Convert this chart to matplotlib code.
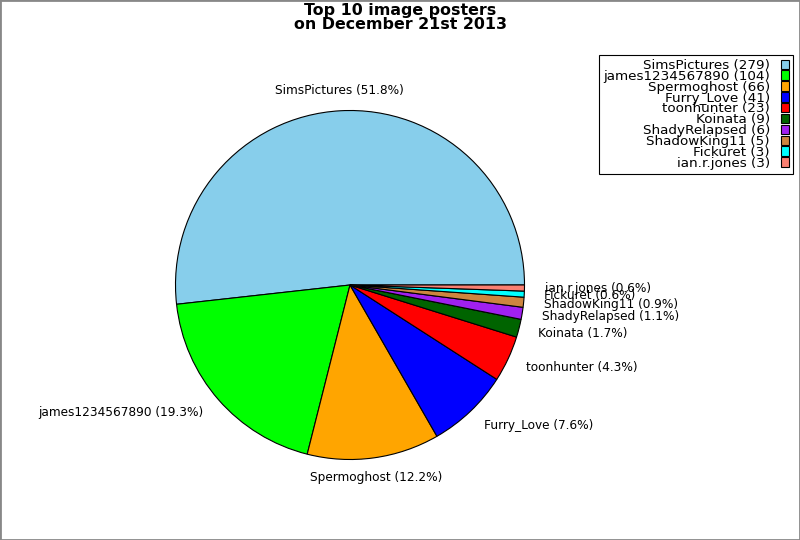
import numpy as np
import matplotlib
matplotlib.use("Agg")
import matplotlib.pyplot as plt

# data
names = ["SimsPictures", "james1234567890", "Spermoghost", "Furry_Love", "toonhunter",
         "Koinata", "ShadyRelapsed", "ShadowKing11", "Fickuret", "ian.r.jones"]
counts = [279, 104, 66, 41, 23, 9, 6, 5, 3, 3]
colors = ["#87ceeb", "#00ff00", "#ffa500", "#0000ff", "#ff0000",
          "#006400", "#a020f0", "#cd853f", "#00ffff", "#fa8072"]

total = sum(counts)
pie_labels = ["%s (%.1f%%)" % (n, 100.0 * c / total) for n, c in zip(names, counts)]
legend_labels = ["%s (%d)" % (n, c) for n, c in zip(names, counts)]

fig = plt.figure(figsize=(8, 5.4), dpi=100)
ax = fig.add_axes([0, 0, 700 / 800, 510 / 540])

wedges, texts = ax.pie(counts, labels=pie_labels, colors=colors, startangle=0,
                       labeldistance=1.115, radius=1.0,
                       wedgeprops=dict(edgecolor="black", linewidth=0.8),
                       textprops=dict(fontsize=8.7))

# centre the labels that sit near the top / bottom of the pie
for t in texts:
    x, y = t.get_position()
    c = x / np.hypot(x, y)
    if c > 0.3:
        t.set_ha("left")
    elif c < -0.3:
        t.set_ha("right")
    else:
        t.set_ha("center")

ax.set_aspect("auto")
ax.set_xlim(-350 / 174.5, 350 / 174.5)
ax.set_ylim(-255 / 174.5, 255 / 174.5)
ax.axis("off")

leg = fig.legend(wedges, legend_labels, loc="upper right",
                 bbox_to_anchor=(793 / 800, 1 - 55 / 540), markerfirst=False,
                 fontsize=9.7, labelspacing=-0.16, handlelength=0.6, handleheight=0.7,
                 handletextpad=0.8, borderpad=0.3, borderaxespad=0.0,
                 fancybox=False, framealpha=1)
leg.get_frame().set_edgecolor("black")
leg.get_frame().set_linewidth(0.8)
for t in leg.get_texts():
    t.set_ha("right")
leg._legend_box.align = "right"

fig.suptitle("Top 10 image posters\non December 21st 2013", fontsize=11.4,
             fontweight="bold", y=0.995, linespacing=0.95)

# grey frame round the figure
fig.patches.append(plt.Rectangle((0, 0), 1, 1, transform=fig.transFigure,
                                 fill=False, edgecolor="#888888", linewidth=2))

fig.savefig("out.png", dpi=100)
